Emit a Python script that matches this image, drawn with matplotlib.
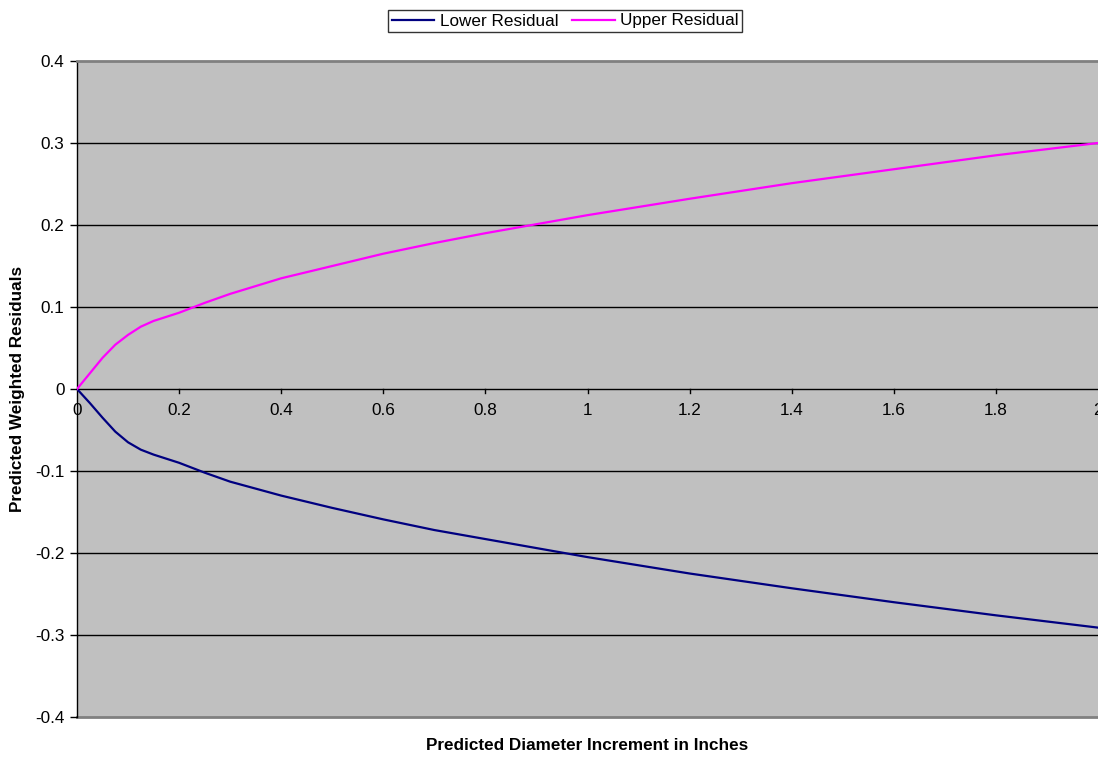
import matplotlib.pyplot as plt
from matplotlib.ticker import FuncFormatter, MultipleLocator

plt.rcParams['font.family'] = ['Liberation Sans', 'DejaVu Sans']
plt.rcParams['axes.unicode_minus'] = False

# Predicted diameter increment (inches) and the residual bounds
increment = [0, 0.025, 0.05, 0.075, 0.1, 0.125, 0.15, 0.175, 0.2, 0.25, 0.3,
             0.4, 0.5, 0.6, 0.7, 0.8, 0.9, 1.0, 1.2, 1.4, 1.6, 1.8, 2.0]
upper_residual = [0, 0.019, 0.038, 0.054, 0.066, 0.076, 0.083, 0.088, 0.093,
                  0.105, 0.116, 0.135, 0.150, 0.165, 0.178, 0.190, 0.201,
                  0.212, 0.232, 0.251, 0.268, 0.285, 0.300]
lower_residual = [0, -0.017, -0.035, -0.052, -0.065, -0.074, -0.080, -0.085,
                  -0.090, -0.102, -0.113, -0.130, -0.145, -0.159, -0.172,
                  -0.183, -0.194, -0.205, -0.225, -0.243, -0.260, -0.276, -0.291]

FS = 12.3

fig = plt.figure(figsize=(10.98, 7.57), dpi=100)
ax = fig.add_axes([77 / 1098, 40 / 757, 1021 / 1098, 656 / 757])
ax.set_facecolor('#C0C0C0')

ax.set_xlim(0, 2)
ax.set_ylim(-0.4, 0.4)

# horizontal gridlines every 0.1
for yv in [-0.3, -0.2, -0.1, 0.1, 0.2, 0.3]:
    ax.axhline(yv, color='black', lw=1.0, zorder=1)
ax.axhline(-0.4, color='#808080', lw=2.0, zorder=1, clip_on=False)

ax.plot(increment, lower_residual, color='#000080', lw=1.6, label='Lower Residual', zorder=3)
ax.plot(increment, upper_residual, color='#FF00FF', lw=1.6, label='Upper Residual', zorder=3)

# axis styling: x axis crosses at y = 0
ax.spines['bottom'].set_position(('data', 0))
ax.spines['bottom'].set_color('black')
ax.spines['bottom'].set_linewidth(1.0)
ax.spines['left'].set_color('black')
ax.spines['left'].set_linewidth(1.0)
ax.spines['top'].set_color('#808080')
ax.spines['top'].set_linewidth(2.0)
ax.spines['right'].set_visible(False)

ax.xaxis.set_major_locator(MultipleLocator(0.2))
ax.yaxis.set_major_locator(MultipleLocator(0.1))
fmt = FuncFormatter(lambda v, p: '%g' % round(v, 2))
ax.xaxis.set_major_formatter(fmt)
ax.yaxis.set_major_formatter(fmt)
ax.tick_params(axis='x', direction='in', length=0, pad=10, labelsize=FS)
ax.tick_params(axis='y', direction='out', length=5, width=1, pad=4, labelsize=FS)

# small downward ticks on the x axis line
for xv in [0.2, 0.4, 0.6, 0.8, 1.0, 1.2, 1.4, 1.6, 1.8]:
    ax.plot([xv, xv], [0, -0.005], color='black', lw=1.0, zorder=2)

ax.set_xlabel('Predicted Diameter Increment in Inches', fontsize=FS,
              fontweight='bold', va='center')
ax.xaxis.set_label_coords(0.5, -0.044)
ax.set_ylabel('Predicted Weighted Residuals', fontsize=FS, fontweight='bold',
              va='center')
ax.yaxis.set_label_coords(-0.058, 0.5)

leg = fig.legend(loc='center', bbox_to_anchor=(565 / 1098, 1 - 21 / 757), ncol=2,
                 frameon=True, fancybox=False, fontsize=FS, handlelength=2.5,
                 handletextpad=0.3, columnspacing=0.8, borderpad=0.2)
leg.get_frame().set_edgecolor('black')
leg.get_frame().set_linewidth(1.0)

fig.savefig('out.png', dpi=100)
